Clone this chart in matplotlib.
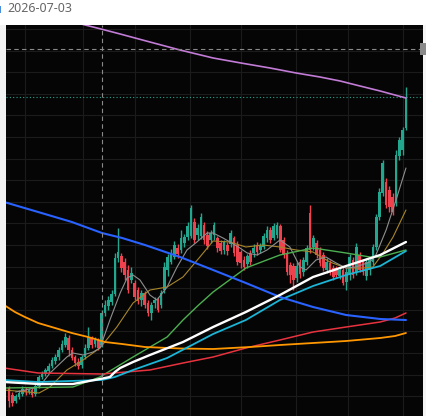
import matplotlib
matplotlib.use("Agg")
import matplotlib.pyplot as plt
from matplotlib.patches import Rectangle
import numpy as np

# ---------------- data ----------------
date_label = "2026-07-03"

open_ = [28, 21, 15, 19, 22, 26, 24, 26, 22, 30,
         39, 42, 45, 50, 55, 59, 66, 71, 78, 66,
         59, 54, 51, 59, 68, 78, 72, 76, 71, 103,
         110, 114, 122, 158, 160, 154, 146, 136, 133, 126,
         116, 123, 113, 103, 113, 116, 111, 126, 146, 154,
         159, 168, 166, 173, 179, 180, 194, 181, 180, 191,
         181, 176, 181, 178, 173, 166, 171, 172, 178, 171,
         164, 156, 152, 162, 163, 171, 166, 169, 178, 186,
         178, 181, 190, 176, 163, 151, 150, 138, 154, 144,
         154, 203, 169, 173, 166, 161, 146, 153, 148, 148,
         140, 146, 134, 141, 156, 144, 161, 154, 140, 146,
         154, 169, 199, 223, 234, 226, 219, 213, 260, 266,
         288]
close_ = [15, 13, 20, 23, 27, 24, 26, 21, 30, 39,
          42, 46, 50, 56, 59, 66, 72, 79, 66, 58,
          53, 50, 59, 68, 79, 71, 76, 68, 103, 111,
          116, 122, 158, 164, 148, 141, 126, 143, 119, 115,
          123, 111, 103, 111, 116, 106, 123, 149, 159, 163,
          171, 162, 178, 179, 190, 208, 176, 188, 199, 176,
          170, 183, 191, 168, 165, 174, 165, 183, 163, 154,
          153, 149, 160, 154, 168, 164, 170, 180, 186, 176,
          190, 191, 166, 161, 144, 141, 136, 150, 142, 156,
          168, 166, 178, 161, 153, 148, 154, 144, 139, 141,
          146, 133, 144, 159, 141, 169, 146, 144, 154, 156,
          169, 199, 224, 253, 211, 209, 204, 261, 276, 286,
          319]
high_ = [30, 24, 22, 26, 30, 29, 28, 28, 32, 41,
         45, 48, 53, 59, 62, 69, 76, 83, 81, 69,
         61, 58, 61, 72, 89, 80, 79, 78, 106, 116,
         120, 126, 163, 188, 163, 158, 151, 149, 136, 129,
         126, 125, 116, 114, 119, 119, 126, 154, 162, 167,
         175, 172, 186, 182, 194, 211, 198, 192, 203, 194,
         185, 186, 194, 180, 176, 176, 174, 186, 180, 175,
         166, 160, 162, 166, 172, 174, 173, 183, 190, 189,
         193, 194, 192, 179, 166, 154, 153, 154, 157, 159,
         171, 211, 181, 176, 169, 164, 158, 156, 151, 150,
         149, 149, 148, 162, 159, 173, 164, 157, 158, 159,
         172, 202, 228, 256, 238, 230, 223, 266, 279, 289,
         329]
low_ = [9, 10, 13, 17, 20, 21, 22, 19, 20, 28,
        37, 40, 43, 48, 52, 56, 64, 69, 60, 56,
        50, 47, 48, 57, 66, 68, 69, 66, 69, 100,
        106, 111, 120, 154, 144, 136, 123, 133, 116, 112,
        110, 108, 100, 96, 108, 104, 108, 123, 140, 152,
        157, 158, 163, 169, 176, 178, 173, 176, 177, 172,
        167, 173, 176, 164, 162, 162, 161, 169, 160, 151,
        148, 146, 148, 151, 159, 161, 163, 167, 174, 173,
        176, 178, 164, 158, 141, 133, 126, 134, 138, 140,
        151, 163, 166, 158, 150, 145, 143, 141, 136, 138,
        137, 131, 126, 136, 138, 141, 144, 141, 136, 141,
        151, 166, 196, 220, 208, 204, 201, 210, 256, 261,
        286]

# moving-average lines (candle index, value)
ma_purple_x = [15, 23.0, 27.8, 33.6, 42.6, 51.7, 61.7, 70.1, 78.9, 86.8, 94.0, 100.1, 106.1, 112.2, 120]
ma_purple_y = [398, 391, 387, 382, 374, 366, 358, 353, 348, 343, 339, 335, 330, 325, 318]
ma_blue_x = [-1.5, 8.8, 19.0, 28.1, 34.2, 41.1, 51.7, 61.7, 71.6, 81.9, 91.9, 101.9, 112.2, 120]
ma_blue_y = [214, 204, 194, 183, 178, 171, 159, 146, 133, 119, 109, 101, 97, 96]
ma_orange_x = [-1.5, 1.8, 4.8, 8.8, 13.9, 19.0, 23.9, 29.0, 34.2, 41.1, 51.7, 61.7,
               72.9, 81.9, 91.9, 101.9, 112.2, 116.7, 120]
ma_orange_y = [111, 104, 99, 93, 88, 83, 79, 74, 72, 69, 67.5, 67,
               69, 71, 73, 75, 78, 80, 83]
ma_red_x = [-1.5, 8.8, 28.1, 42.6, 52.6, 61.7, 71.6, 81.9, 91.9, 101.9, 112.2, 116.7, 120]
ma_red_y = [48, 43, 42, 46, 53, 59, 68, 76, 84, 89, 94, 98, 103]
ma_cyan_x = [-1.5, 8.8, 28.1, 32.0, 37.5, 47.8, 61.7, 71.6, 81.9, 91.9, 101.9, 112.2, 120]
ma_cyan_y = [36, 34, 36, 39, 46, 58, 82, 96, 116, 130, 141, 150, 165]
ma_white_x = [-1.5, 9.1, 19.3, 27.5, 30.5, 32.0, 33.6, 37.5, 42.6, 52.6, 61.7, 71.6, 81.9,
              91.9, 101.9, 112.2, 120]
ma_white_y = [34, 32, 32, 37, 39, 44, 48, 54, 61, 74, 89, 104, 121,
              139, 150, 161, 174]
ma_green_x = [-1.5, 19.3, 27.5, 37.5, 47.8, 52.6, 57.0, 61.7, 71.6, 81.9, 91.9, 101.9, 109.1, 112.2, 120]
ma_green_y = [28, 29, 39, 59, 79, 96, 110, 124, 148, 161, 168, 163, 159, 159, 166]
ma_gold_x = [-1.5, 9.1, 12.4, 17.5, 22.4, 27.5, 32.6, 37.5, 42.6, 47.8, 52.6, 57.7,
             61.7, 66.8, 71.6, 76.8, 81.9, 86.8, 91.9, 97.0, 101.9, 107.0, 110.0,
             113.1, 116.1, 120]
ma_gold_y = [26, 23, 29, 46, 56, 68, 89, 113, 126, 129, 139, 159,
             175, 174, 169, 171, 169, 166, 164, 154, 148, 148, 149,
             163, 179, 206]
ma_grey_x = [2, 9.1, 12.4, 17.5, 19.3, 22.4, 25.4, 27.5, 30.5, 33.6, 35.7, 37.5,
             39.6, 42.6, 44.7, 47.8, 50.8, 53.8, 56.8, 59.9, 61.7, 64.7, 66.8,
             69.8, 72.0, 75.0, 78.0, 81.9, 84.9, 88.0, 89.8, 92.8, 95.8, 98.9,
             101.9, 104.9, 109.1, 110.9, 114.0, 117.0, 120]
ma_grey_y = [24, 29, 43, 59, 63, 61, 64, 68, 96, 123, 138, 141,
             136, 121, 116, 129, 149, 166, 174, 183, 183, 178, 174,
             168, 163, 161, 166, 176, 169, 149, 146, 156, 159, 153,
             148, 149, 154, 161, 186, 216, 248]

crosshair_x = 28
crosshair_y = 367
grid_x = [4.84, 22.4, 38.1, 54.7, 70.1, 86.8, 102.5, 119.1]
grid_y = [19.8 + 21.6 * k for k in range(18)]

# ---------------- figure ----------------
W, H = 427, 416
fig = plt.figure(figsize=(W / 100, H / 100), dpi=100, facecolor="white")

fig.patches.append(Rectangle((0, 0), 6 / W, 391 / H, transform=fig.transFigure,
                             facecolor="#f2f2f2", edgecolor="none", zorder=0))
fig.patches.append(Rectangle((423 / W, 0), 4 / W, 391 / H, transform=fig.transFigure,
                             facecolor="#f5f5f5", edgecolor="none", zorder=0))

ax = fig.add_axes([6 / W, 0, 417 / W, 391 / H])
ax.set_facecolor("#050505")
for s in ax.spines.values():
    s.set_visible(False)
ax.set_xlim(-0.907, 125.15)
ax.set_ylim(0, 391)
ax.set_xticks([])
ax.set_yticks([])

for gx in grid_x:
    ax.axvline(gx, color="#1b1b1b", lw=0.8, zorder=0.5)
for gy in grid_y:
    ax.axhline(gy, color="#1b1b1b", lw=0.8, zorder=0.5)

up_c = "#22a68e"
dn_c = "#f0414f"
idx = np.arange(len(close_))
o = np.array(open_, float)
c = np.array(close_, float)
hi = np.array(high_, float)
lo = np.array(low_, float)
cols = [up_c if cc >= oo else dn_c for oo, cc in zip(o, c)]
ax.vlines(idx, lo, hi, colors=cols, lw=1.0, zorder=2)
bottoms = np.minimum(o, c)
heights = np.maximum(np.abs(c - o), 1.0)
ax.bar(idx, heights, bottom=bottoms, width=0.8, color=cols, edgecolor="none", zorder=3)

# moving averages
kw = dict(solid_joinstyle="round", solid_capstyle="round")
ax.plot(ma_gold_x, ma_gold_y, color="#a8862a", lw=0.8, zorder=4, **kw)
ax.plot(ma_grey_x, ma_grey_y, color="#8f8f8f", lw=0.8, zorder=4, **kw)
ax.plot(ma_green_x, ma_green_y, color="#4caf50", lw=1.0, zorder=4, **kw)
ax.plot(ma_red_x, ma_red_y, color="#e8333f", lw=1.1, zorder=4, **kw)
ax.plot(ma_orange_x, ma_orange_y, color="#ff9800", lw=1.3, zorder=4, **kw)
ax.plot(ma_cyan_x, ma_cyan_y, color="#1cb5d6", lw=1.3, zorder=4, **kw)
ax.plot(ma_blue_x, ma_blue_y, color="#2962ff", lw=1.5, zorder=4, **kw)
ax.plot(ma_white_x, ma_white_y, color="#ffffff", lw=1.7, zorder=5, **kw)
ax.plot(ma_purple_x, ma_purple_y, color="#c27bd6", lw=1.2, zorder=4, **kw)

# last price line
ax.axhline(close_[-1], color=up_c, lw=0.8, ls=(0, (1, 2)), zorder=3.5)

# crosshair
ax.axvline(crosshair_x, color="#8a8a8a", lw=0.8, ls=(0, (4, 3)), zorder=6)
ax.axhline(crosshair_y, color="#8a8a8a", lw=0.8, ls=(0, (4, 3)), zorder=6)

fig.patches.append(Rectangle((420 / W, 1 - 55 / H), 7 / W, 12 / H, transform=fig.transFigure,
                             facecolor="#8a8a8a", edgecolor="none", zorder=10))

fig.text(7 / W, 1 - 9 / H, date_label, fontsize=9, family=["Noto Sans", "DejaVu Sans"],
         color="#666666", va="center", ha="left")
fig.patches.append(Rectangle((0, 1 - 13 / H), 1.5 / W, 7 / H, transform=fig.transFigure,
                             facecolor="#4a90d9", edgecolor="none", zorder=10))

fig.savefig("out.png", dpi=100, facecolor="white")
